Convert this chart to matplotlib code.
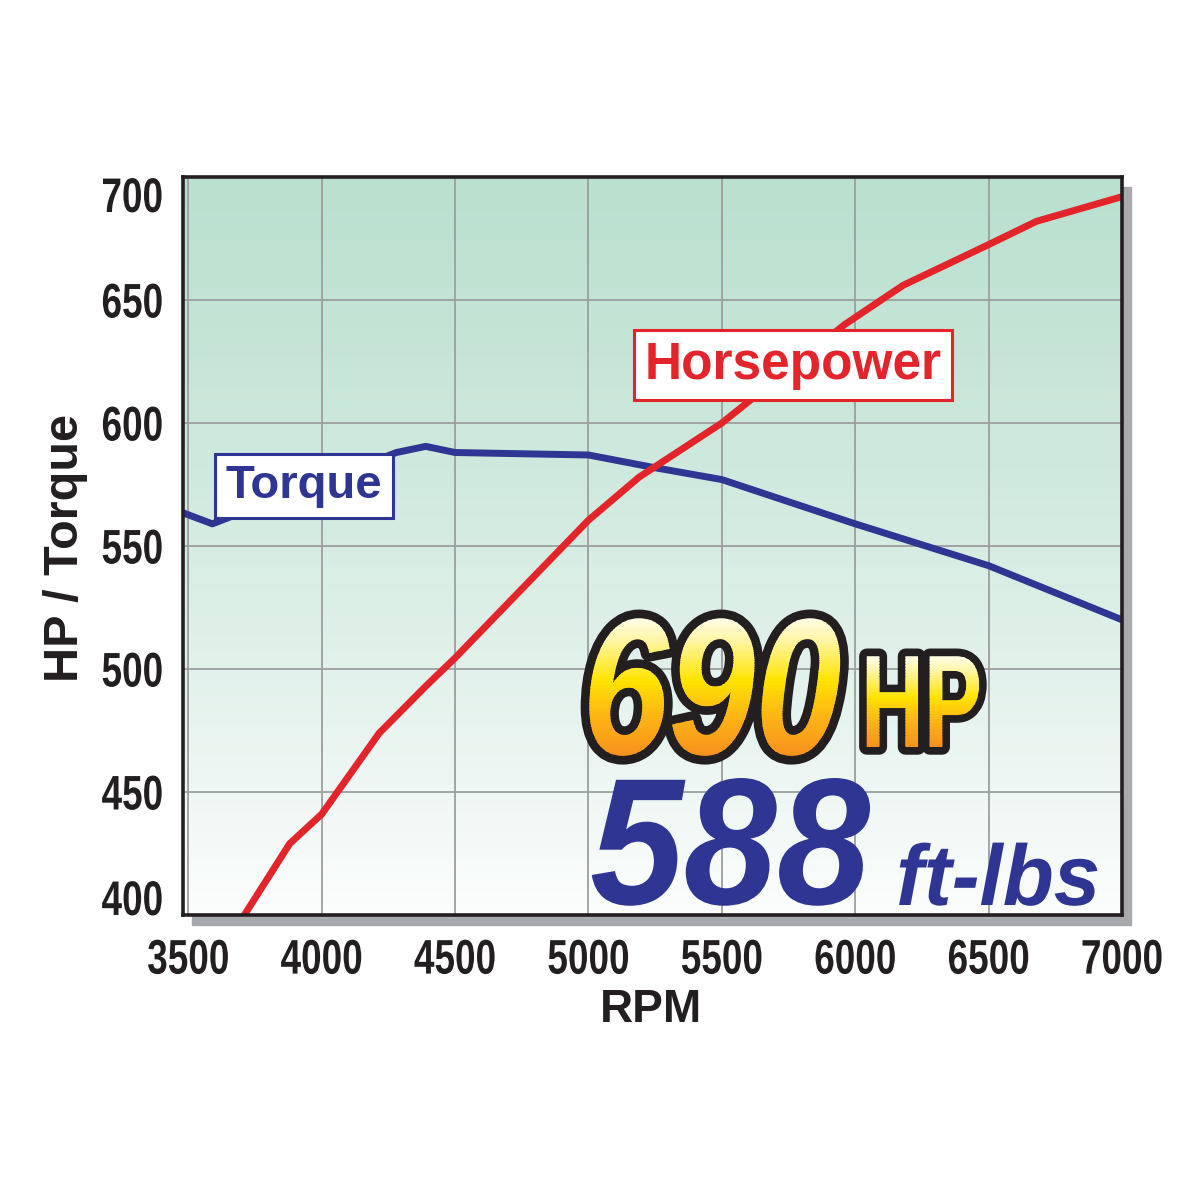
import numpy as np
import matplotlib.pyplot as plt
from matplotlib.patches import Rectangle
from matplotlib.transforms import Affine2D, Bbox
from matplotlib.colors import to_rgb
import matplotlib.patheffects as pe

# Curve values
hp_rpm = [3710, 3880, 4000, 4216, 4390, 4500, 5000, 5190, 5500, 5960, 6180, 6490, 6680, 7000]
hp = [400, 429, 441, 474, 493, 504.5, 560.5, 578, 600, 640, 656, 672, 682, 692]

tq_rpm = [3480, 3590, 4280, 4390, 4500, 5000, 5240, 5500, 6000, 6500, 7000]
tq = [563.5, 559, 588, 590.5, 588, 587, 582, 577, 559, 542, 520]

x_ticks = [3500, 4000, 4500, 5000, 5500, 6000, 6500, 7000]
y_ticks = [400, 450, 500, 550, 600, 650, 700]

RED = "#E3242B"
BLUE = "#2E3592"
INK = "#231F20"
SANS = ["Liberation Sans", "DejaVu Sans"]
GOLD = [(0.0, "#F7901E"), (0.3, "#FDB515"), (0.55, "#FFE300"), (0.85, "#FFF6A8"), (1.0, "#FFFDE6")]

W = 1200


def fpos(x, y):
    # pixel position (from top-left) -> figure fraction
    return x / W, 1 - y / W


def gold_at(f):
    stops = [s for s, _ in GOLD]
    cols = np.array([to_rgb(c) for _, c in GOLD])
    return tuple(np.interp(f, stops, cols[:, k]) for k in range(3))


class Condensed(pe.AbstractPathEffect):
    """Squeeze glyphs horizontally (no narrow font installed), optional outline / gradient."""

    def __init__(self, sx, anchor="left", stroke=None, stroke_width=0, gradient=False):
        super().__init__()
        self.sx = sx
        self.anchor = anchor
        self.stroke = stroke
        self.stroke_width = stroke_width
        self.gradient = gradient

    def draw_path(self, renderer, gc, tpath, affine, rgbFace=None):
        ext = tpath.get_extents()
        x0 = {"left": ext.x0, "center": (ext.x0 + ext.x1) / 2, "right": ext.x1}[self.anchor]
        aff = Affine2D().translate(-x0, 0).scale(self.sx, 1).translate(x0, 0) + affine
        if self.stroke is not None:
            gc0 = renderer.new_gc()
            gc0.copy_properties(gc)
            gc0.set_linewidth(renderer.points_to_pixels(self.stroke_width))
            gc0.set_foreground(self.stroke)
            gc0.set_joinstyle("round")
            renderer.draw_path(gc0, tpath, aff, to_rgb(self.stroke))
            gc0.restore()
        if not self.gradient:
            renderer.draw_path(gc, tpath, aff, rgbFace)
            return
        bb = tpath.get_extents(aff)
        n = 60
        ys = np.linspace(bb.y0, bb.y1, n + 1)
        for i in range(n):
            gci = renderer.new_gc()
            gci.copy_properties(gc)
            gci.set_linewidth(0)
            gci.set_clip_rectangle(Bbox([[bb.x0 - 4, ys[i] - 0.6], [bb.x1 + 4, ys[i + 1] + 0.6]]))
            renderer.draw_path(gci, tpath, aff, gold_at((i + 0.5) / n))
            gci.restore()


fig = plt.figure(figsize=(12, 12), dpi=100)

# axes box in pixels
left, top, right, bottom = 183, 177, 1122, 915
ax = fig.add_axes([left / W, 1 - bottom / W, (right - left) / W, (bottom - top) / W])

# drop shadow behind the plot frame
shadow = Rectangle(fpos(left + 9, bottom + 10), (right - left) / W, (bottom - top) / W,
                   transform=fig.transFigure, color="#A7A9AC", zorder=-1)
fig.add_artist(shadow)

ax.set_xlim(3480, 7000)
ax.set_ylim(400, 700)

# mint-to-white background gradient
t = np.linspace(0, 1, 256) ** 1.25
top_c = np.array([187, 224, 208]) / 255
bot_c = np.array([252, 253, 253]) / 255
grad = top_c[None, :] * (1 - t[:, None]) + bot_c[None, :] * t[:, None]
ax.imshow(grad[:, None, :], extent=[3480, 7000, 400, 700], aspect="auto",
          origin="upper", zorder=0, interpolation="bilinear")

ax.set_axisbelow(True)
ax.grid(True, color="#9C9E9F", linewidth=1.3)

ax.plot(tq_rpm, tq, color=BLUE, linewidth=5, solid_joinstyle="round", zorder=3)
ax.plot(hp_rpm, hp, color=RED, linewidth=5, solid_joinstyle="round", zorder=4)

for s in ax.spines.values():
    s.set_linewidth(2.6)
    s.set_color(INK)
    s.set_zorder(6)

ax.set_xticks(x_ticks)
ax.set_xticklabels([str(v) for v in x_ticks])
ax.set_yticks(y_ticks)
ax.set_yticklabels([str(v) for v in y_ticks])
ax.tick_params(length=0, labelsize=35, labelcolor=INK)
ax.tick_params(axis="x", pad=17)
ax.tick_params(axis="y", pad=14)
for lab in ax.get_xticklabels():
    lab.set_family(SANS)
    lab.set_fontweight("bold")
    lab.set_path_effects([Condensed(0.76, "center")])
for lab in ax.get_yticklabels():
    lab.set_family(SANS)
    lab.set_fontweight("bold")
    lab.set_path_effects([Condensed(0.76, "right")])
ylabs = ax.get_yticklabels()
ylabs[0].set_verticalalignment("baseline")
ylabs[-1].set_verticalalignment("top")

# curve labels
fig.text(*fpos(793, 365), "Horsepower", fontsize=37, fontweight="bold", family=SANS,
         color=RED, ha="center", va="center",
         bbox=dict(boxstyle="square,pad=0.2", facecolor="white", edgecolor=RED, linewidth=2.2))
fig.text(*fpos(304, 486), "Torque", fontsize=34, fontweight="bold", family=SANS,
         color=BLUE, ha="center", va="center",
         bbox=dict(boxstyle="square,pad=0.22", facecolor="white", edgecolor=BLUE, linewidth=2.2))

# axis titles
fig.text(*fpos(651, 1010), "RPM", fontsize=33, fontweight="bold", family=SANS,
         color=INK, ha="center", va="center")
fig.text(*fpos(66, 548), "HP / Torque", fontsize=35, fontweight="bold", family=SANS,
         color=INK, ha="center", va="center", rotation=90)

# headline numbers ("690" anchored at its right end so it does not crowd "HP")
fig.text(*fpos(842, 754), "690", fontsize=140, fontweight="bold", fontstyle="italic",
         family=SANS, color="#FFD21C", ha="right", va="baseline",
         path_effects=[Condensed(0.8, "right", stroke=INK, stroke_width=9, gradient=True)])
fig.text(*fpos(858, 747), "HP", fontsize=95, fontweight="bold",
         family=SANS, color="#FFD21C", ha="left", va="baseline",
         path_effects=[Condensed(0.66, "left", stroke=INK, stroke_width=8, gradient=True)])
fig.text(*fpos(590, 904), "588", fontsize=130, fontweight="bold", fontstyle="italic",
         family=SANS, color=BLUE, ha="left", va="baseline",
         path_effects=[Condensed(0.93, "left")])
fig.text(*fpos(896, 905), "ft-lbs", fontsize=62, fontweight="bold", fontstyle="italic",
         family=SANS, color=BLUE, ha="left", va="baseline",
         path_effects=[Condensed(0.97, "left")])

fig.savefig("out.png", dpi=100, facecolor="white")
